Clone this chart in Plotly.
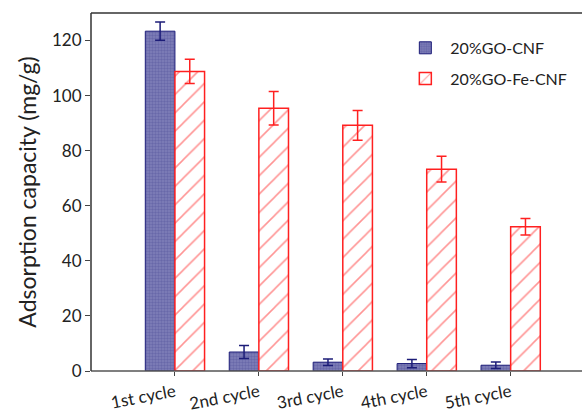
import plotly.graph_objects as go

categories = ["1st cycle", "2nd cycle", "3rd cycle", "4th cycle", "5th cycle"]
positions = [0, 1, 2, 3, 4]
go_cnf = [123.4, 6.9, 3.2, 2.7, 2.1]
go_cnf_err = [3.3, 2.4, 1.2, 1.5, 1.2]
go_fe_cnf = [108.8, 95.4, 89.2, 73.3, 52.4]
go_fe_cnf_err = [4.4, 6.1, 5.4, 4.7, 3.0]
y_ticks = [0, 20, 40, 60, 80, 100, 120]

FONT = "Lato"

fig = go.Figure()
fig.add_trace(go.Bar(
    x=positions, y=go_cnf, name="20%GO-CNF", legendgroup="a",
    marker=dict(
        color="#7474aa",
        line=dict(color="#1c1c78", width=1),
        pattern=dict(shape=".", fgcolor="#50509a", bgcolor="#8080b8", size=3, solidity=0.5),
    ),
    error_y=dict(type="data", array=go_cnf_err, visible=True,
                 color="#1c1c78", thickness=1.5, width=5),
))
fig.add_trace(go.Bar(
    x=positions, y=go_fe_cnf, name="20%GO-Fe-CNF", legendgroup="b",
    marker=dict(
        color="white",
        line=dict(color="#ff2020", width=1.5),
        pattern=dict(shape="/", fgcolor="#ff2a2a", bgcolor="white", size=13, solidity=0.12),
    ),
    error_y=dict(type="data", array=go_fe_cnf_err, visible=True,
                 color="#ff2020", thickness=1.5, width=5),
))

frame_lines = [
    dict(x0=0, x1=1, y0=1, y1=1, color="#333333"),   # top
    dict(x0=0, x1=1, y0=0, y1=0, color="#555555"),   # bottom
    dict(x0=0, x1=0, y0=0, y1=1, color="#333333"),   # left
]

fig.update_layout(
    width=588, height=415,
    margin=dict(l=91, r=6, t=13, b=44),
    paper_bgcolor="white", plot_bgcolor="white",
    barmode="group", bargap=0.294, bargroupgap=0,
    font=dict(family=FONT, color="#222222"),
    showlegend=True,
    legend=dict(
        x=0.63, y=0.95, xanchor="left", yanchor="top",
        bgcolor="rgba(0,0,0,0)",
        font=dict(size=16, family=FONT, color="#222222"),
        itemwidth=40, tracegroupgap=7,
    ),
    xaxis=dict(
        range=[-1.0, 4.85],
        tickmode="array", tickvals=positions, ticktext=categories,
        tickangle=-11, automargin=False,
        tickfont=dict(size=17, family=FONT, color="#222222"),
        ticks="outside", ticklen=4, tickcolor="#444444",
        showline=False, mirror=False,
        showgrid=False, zeroline=False,
    ),
    yaxis=dict(
        range=[0, 130],
        tickmode="array", tickvals=y_ticks,
        tickfont=dict(size=17, family=FONT, color="#222222"),
        ticks="outside", ticklen=5, tickcolor="#444444",
        showline=False, mirror=False,
        showgrid=False, zeroline=False,
        title=dict(text="Adsorption capacity (mg/g)", font=dict(size=23, family=FONT, color="#222222"), standoff=8),
    ),
    shapes=[dict(type="line", xref="paper", yref="paper",
                 x0=s["x0"], x1=s["x1"], y0=s["y0"], y1=s["y1"],
                 line=dict(color=s["color"], width=1.5)) for s in frame_lines],
)

fig.write_html("out.html")
